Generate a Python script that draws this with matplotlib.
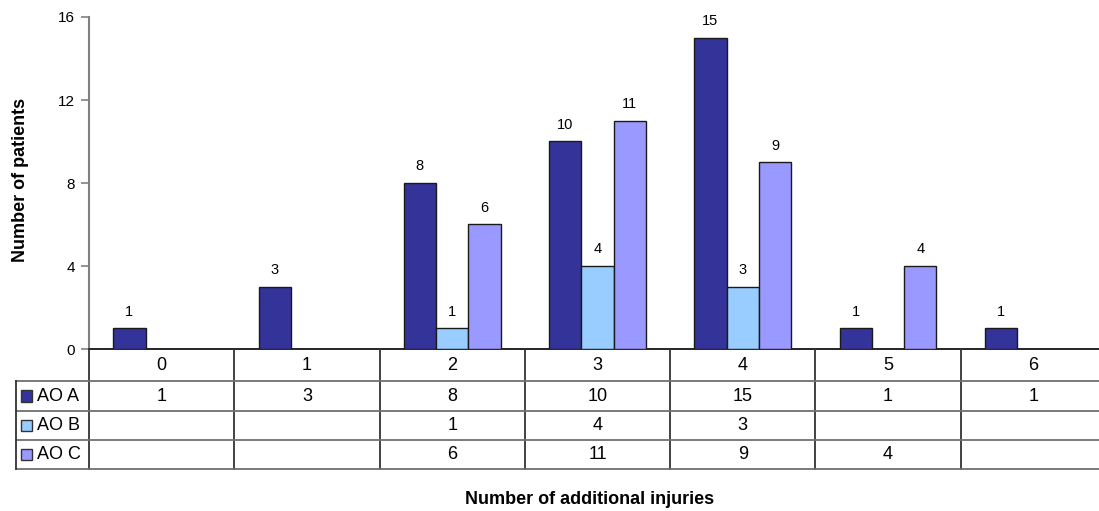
import matplotlib
matplotlib.use("Agg")
import matplotlib.pyplot as plt
import numpy as np

categories = ["0", "1", "2", "3", "4", "5", "6"]
series_names = ["AO A", "AO B", "AO C"]
ao_a = [1, 3, 8, 10, 15, 1, 1]
ao_b = [None, None, 1, 4, 3, None, None]
ao_c = [None, None, 6, 11, 9, 4, None]
colors = ["#333399", "#99CCFF", "#9999FF"]
y_ticks = [0, 4, 8, 12, 16]

plt.rcParams["font.family"] = ["Liberation Sans", "DejaVu Sans"]

W, H = 1099, 511
fig = plt.figure(figsize=(W / 100, H / 100), dpi=100)

def fx(px):
    return px / W

def fy(py):
    return 1 - py / H

left_px, right_px = 89, 1106
top_px, zero_px = 17, 349
ax = fig.add_axes([fx(left_px), fy(zero_px), fx(right_px - left_px), fy(top_px) - fy(zero_px)])

n = len(categories)
x = np.arange(n)
bw = 1 / 4.5
all_series = [ao_a, ao_b, ao_c]
for i, (vals, col) in enumerate(zip(all_series, colors)):
    xs = [x[j] + (i - 1) * bw for j in range(n) if vals[j] is not None]
    vs = [vals[j] for j in range(n) if vals[j] is not None]
    ax.bar(xs, vs, width=bw, color=col, edgecolor="#1a1a1a", linewidth=1.0, zorder=3)
    for xx, v in zip(xs, vs):
        ax.annotate(str(v), (xx, v), xytext=(0, 7), textcoords="offset points",
                    ha="center", va="bottom", fontsize=10.5, color="black")

ax.set_xlim(-0.5, n - 0.5)
ax.set_ylim(0, 16)
ax.set_yticks(y_ticks)
ax.set_yticklabels([str(t) for t in y_ticks], fontsize=11)
ax.set_xticks([])
for s in ["top", "right"]:
    ax.spines[s].set_visible(False)
ax.spines["left"].set_color("#808080")
ax.spines["left"].set_linewidth(1.5)
ax.spines["bottom"].set_color("black")
ax.spines["bottom"].set_linewidth(1.2)
ax.tick_params(axis="y", direction="out", length=6, width=1.2, color="#808080", pad=4)

fig.text(fx(21), fy(180), "Number of patients", rotation=90, ha="center", va="center",
         fontsize=13, fontweight="bold")

# data table
row_px = [349, 381, 411, 440, 469]
tab = fig.add_axes([fx(left_px), fy(row_px[-1]), fx(right_px - left_px), fy(row_px[0]) - fy(row_px[-1])])
tab.set_xlim(-0.5, n - 0.5)
tab.set_ylim(row_px[-1], row_px[0])
tab.axis("off")
vc = "#333333"
hc = "#707070"
lw = 1.3
cat_px = (right_px - left_px) / n
hdr_left = -0.5 - (left_px - 16) / cat_px
for k in range(n + 1):
    tab.plot([k - 0.5, k - 0.5], [row_px[0], row_px[-1]], color=vc, lw=lw, clip_on=False)
for r in row_px[1:]:
    tab.plot([hdr_left, n - 0.5], [r, r], color=hc, lw=lw, clip_on=False)
tab.plot([hdr_left, hdr_left], [row_px[1], row_px[-1]], color=vc, lw=lw, clip_on=False)
for j, c in enumerate(categories):
    tab.text(j, (row_px[0] + row_px[1]) / 2, c, ha="center", va="center", fontsize=13)
for i, (name, vals, col) in enumerate(zip(series_names, all_series, colors)):
    yc = (row_px[i + 1] + row_px[i + 2]) / 2
    for j in range(n):
        if vals[j] is not None:
            tab.text(j, yc, str(vals[j]), ha="center", va="center", fontsize=13)
    tab.text(hdr_left + 21 / cat_px, yc, name, ha="left", va="center", fontsize=13, clip_on=False)
    sq = hdr_left + 5 / cat_px
    tab.add_patch(plt.Rectangle((sq, yc + 5.5), 11.5 / cat_px, -11.5, facecolor=col,
                                edgecolor="#333333", lw=1, clip_on=False))

fig.text(fx(590), fy(500), "Number of additional injuries", ha="center", va="center",
         fontsize=13, fontweight="bold")

fig.savefig("out.png", dpi=100)
